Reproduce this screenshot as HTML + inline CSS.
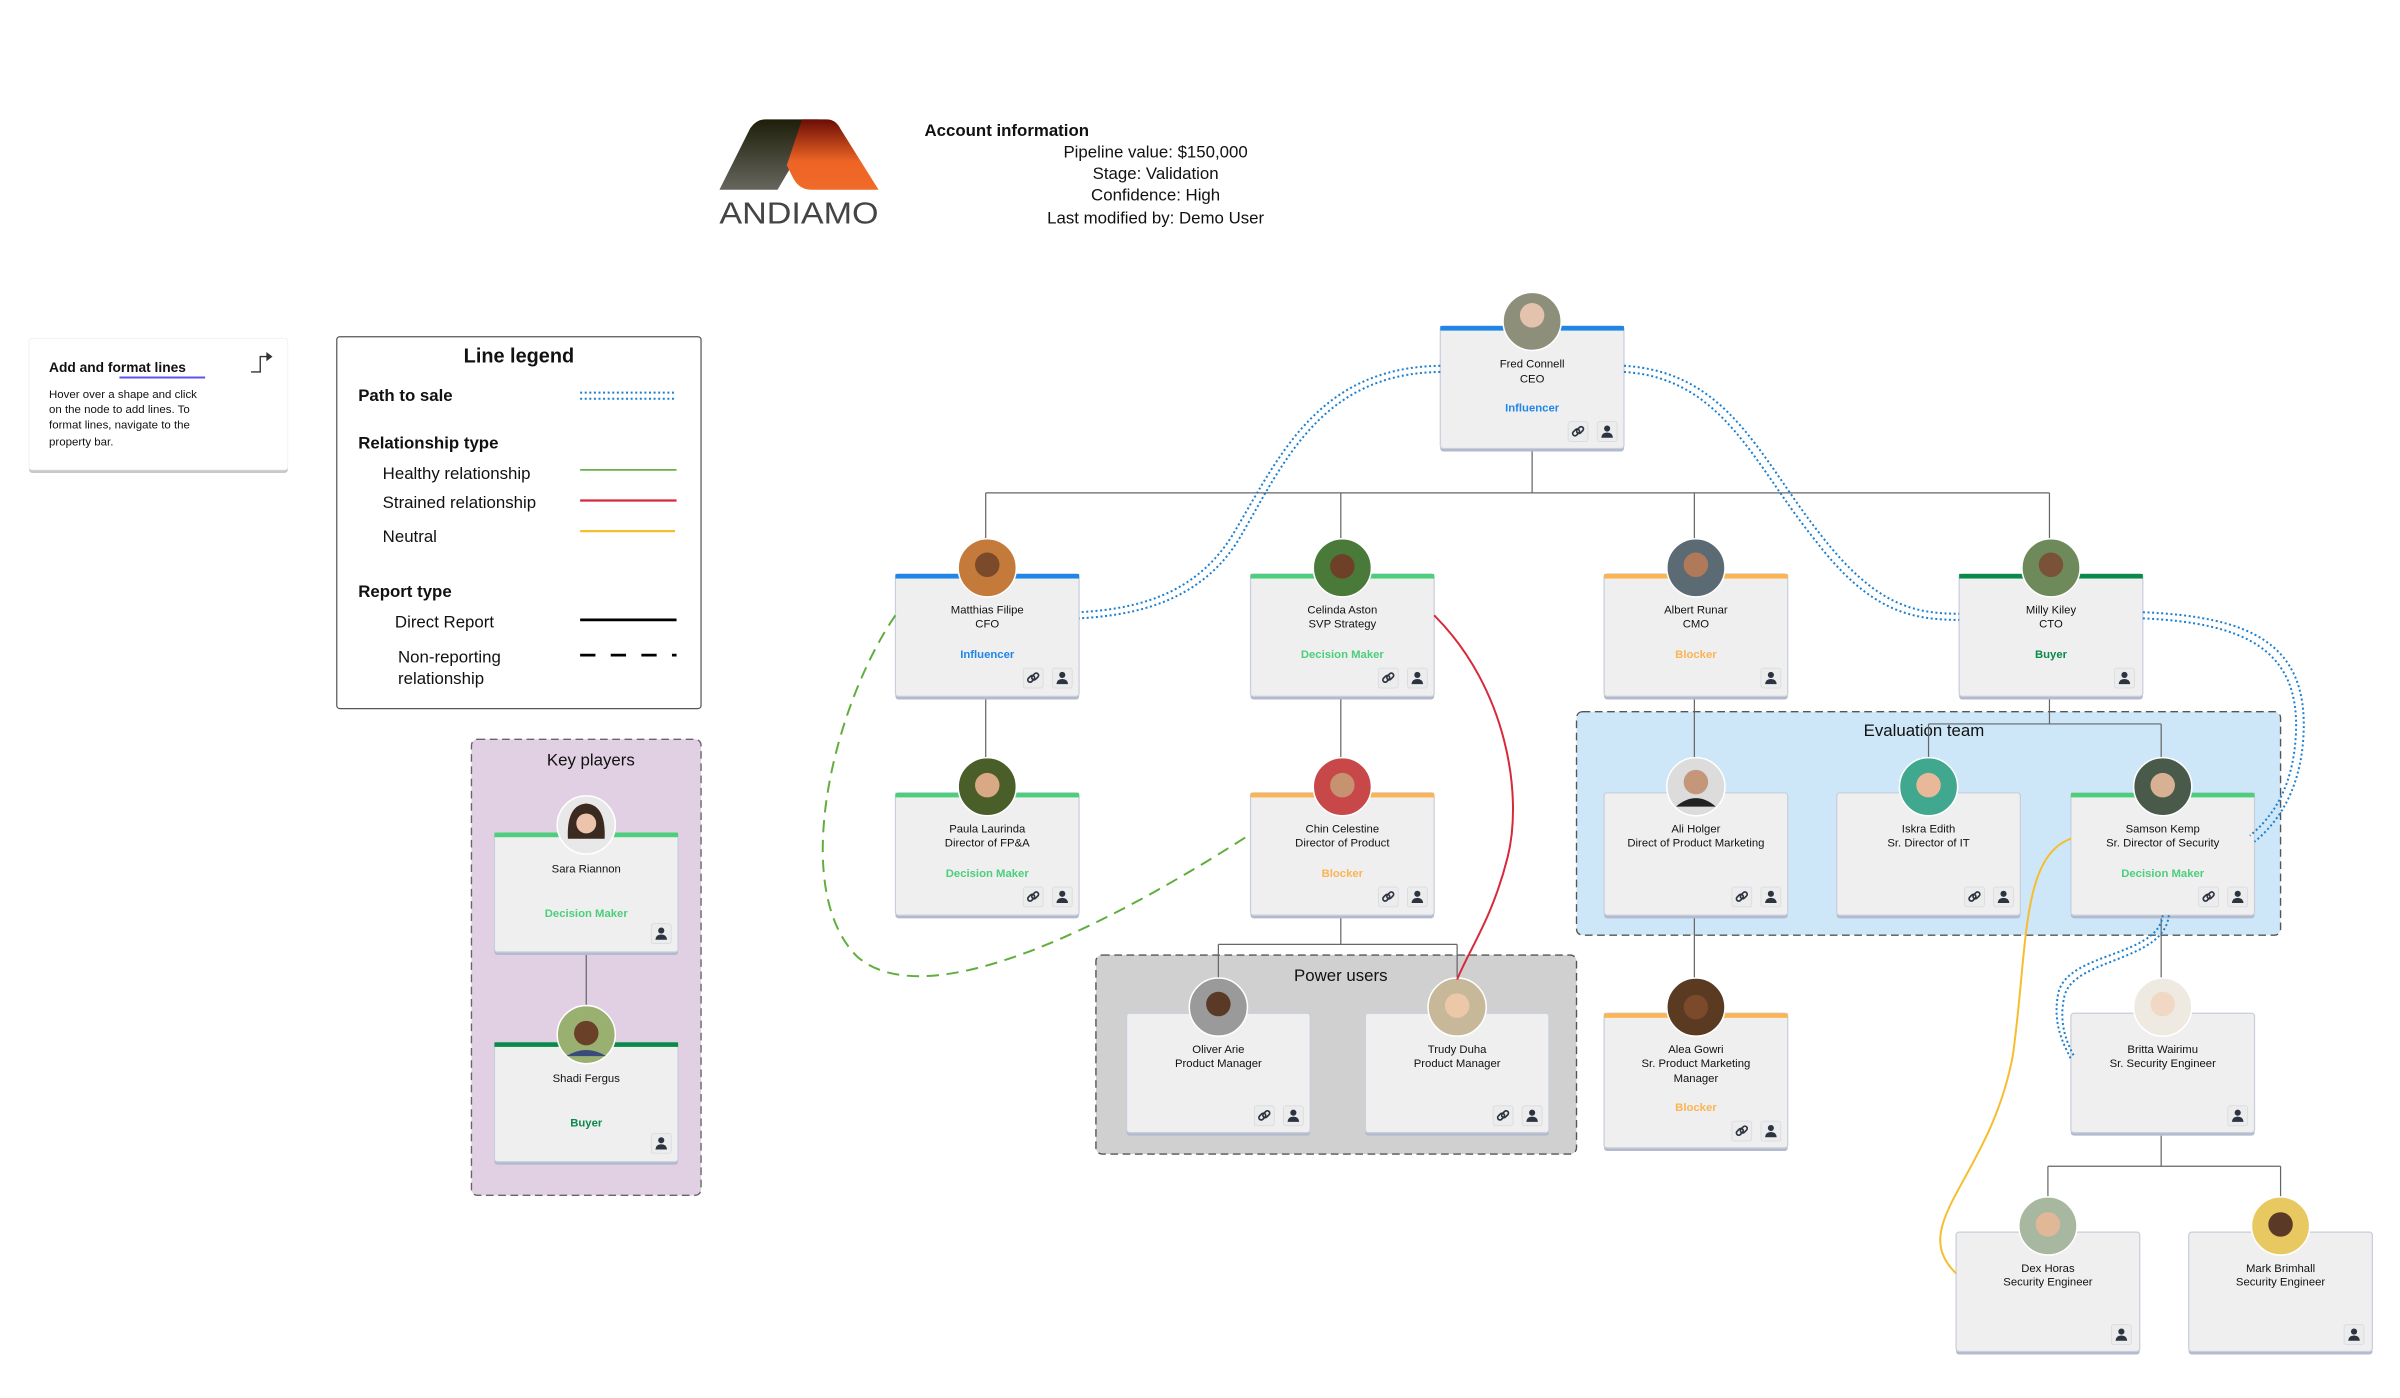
<!DOCTYPE html>
<html><head><meta charset="utf-8"><style>
html,body{margin:0;padding:0;background:#fff;width:2400px;height:1398px;overflow:hidden}
svg{display:block}
text{font-family:"Liberation Sans",sans-serif}
.n{font-size:7.4px;fill:#111;text-anchor:middle}
.r{font-size:7.4px;font-weight:bold;text-anchor:middle}
.card{fill:#efefef;stroke:#c8cedb;stroke-width:0.8}
.sh{fill:#b3bace}
.ib{fill:#ececec;stroke:#d6d9e0;stroke-width:0.5}
.tree{stroke:#666;stroke-width:0.8;fill:none}
.dot{stroke:#1a7fd0;stroke-width:1.3;fill:none;stroke-dasharray:1.3 1.7}
.av{stroke:#fff;stroke-width:1}
</style></head><body>
<svg width="2400" height="1398" viewBox="0 0 1568 913.4" xmlns="http://www.w3.org/2000/svg">
<defs>
<symbol id="pi" viewBox="0 0 14 14"><rect class="ib" x="0.5" y="0.5" width="13" height="13" rx="1.5"/><circle cx="7" cy="5" r="2" fill="#2d3441"/><path d="M3.2 11 Q3.5 7.6 7 7.6 Q10.5 7.6 10.8 11 Z" fill="#2d3441"/></symbol>
<symbol id="li" viewBox="0 0 14 14"><rect class="ib" x="0.5" y="0.5" width="13" height="13" rx="1.5"/><g fill="none" stroke="#2d3441" stroke-width="1.1"><rect x="3.2" y="6" width="5" height="3" rx="1.5" transform="rotate(-45 5.7 7.5)"/><rect x="5.8" y="4.5" width="5" height="3" rx="1.5" transform="rotate(-45 8.3 6)"/></g></symbol>
<linearGradient id="lg1" x1="0" y1="0" x2="0" y2="1"><stop offset="0" stop-color="#1e1e0a"/><stop offset="1" stop-color="#66665e"/></linearGradient>
<linearGradient id="lg2" x1="0" y1="0" x2="0" y2="1"><stop offset="0" stop-color="#6a0e05"/><stop offset="0.6" stop-color="#ee6425"/><stop offset="1" stop-color="#f06a28"/></linearGradient>
</defs>

<!-- logo -->
<path d="M470 124 L490 84 Q494 78 500 78 L535 78 L508 124 Z" fill="url(#lg1)"/>
<path d="M524 78 L540 78 Q546 78 549 84 L574 124 L530 124 Q522 124 518 116 L514 108 Z" fill="url(#lg2)"/>
<text x="522" y="146" font-size="20" fill="#444" text-anchor="middle" textLength="104" lengthAdjust="spacingAndGlyphs">ANDIAMO</text>
<text x="604" y="89" font-size="11" font-weight="bold" fill="#111">Account information</text>
<g font-size="11" fill="#111" text-anchor="middle"><text x="755" y="103">Pipeline value: $150,000</text><text x="755" y="117">Stage: Validation</text><text x="755" y="131">Confidence: High</text><text x="755" y="146">Last modified by: Demo User</text></g>

<!-- tip card -->
<rect x="19" y="223" width="169" height="86" rx="2" fill="#c8c8c8"/>
<rect x="19" y="221" width="169" height="86" rx="2" fill="#fff" stroke="#eee" stroke-width="0.5"/>
<text x="32" y="243" font-size="9" font-weight="bold" fill="#111">Add and format lines</text>
<rect x="78" y="246" width="56" height="1.3" fill="#5a55ee"/>
<path d="M164 243 H170 V233 H175" fill="none" stroke="#333" stroke-width="0.9"/><path d="M174 230 L178 233 L174 236Z" fill="#333"/>
<g font-size="7.5" fill="#111"><text x="32" y="260">Hover over a shape and click</text><text x="32" y="270">on the node to add lines. To</text><text x="32" y="280">format lines, navigate to the</text><text x="32" y="291">property bar.</text></g>

<!-- legend -->
<rect x="220" y="220" width="238" height="243" rx="2" fill="#fff" stroke="#555" stroke-width="0.8"/>
<text x="339" y="237" font-size="13" font-weight="bold" fill="#111" text-anchor="middle">Line legend</text>
<g font-size="11" fill="#111">
<text x="234" y="262" font-weight="bold">Path to sale</text>
<text x="234" y="293" font-weight="bold">Relationship type</text>
<text x="250" y="313">Healthy relationship</text>
<text x="250" y="332">Strained relationship</text>
<text x="250" y="354">Neutral</text>
<text x="234" y="390" font-weight="bold">Report type</text>
<text x="258" y="410">Direct Report</text>
<text x="260" y="433">Non-reporting</text>
<text x="260" y="447">relationship</text>
</g>
<path d="M379 256.5 H441 M379 260.5 H441" class="dot" stroke-width="1.2"/>
<line x1="379" y1="307" x2="442" y2="307" stroke="#6ab04c" stroke-width="1.2"/>
<line x1="379" y1="327" x2="442" y2="327" stroke="#d8283a" stroke-width="1.5"/>
<line x1="379" y1="347" x2="441" y2="347" stroke="#f6bd2f" stroke-width="1.5"/>
<line x1="379" y1="405" x2="442" y2="405" stroke="#000" stroke-width="1.8"/>
<line x1="379" y1="428" x2="442" y2="428" stroke="#000" stroke-width="1.8" stroke-dasharray="10 10"/>

<!-- groups -->
<rect x="308" y="483" width="150" height="298" rx="4" fill="#e1d0e3" stroke="#666" stroke-width="0.9" stroke-dasharray="5 3"/>
<text x="386" y="500" font-size="11" fill="#111" text-anchor="middle">Key players</text>
<rect x="716" y="624" width="314" height="130" rx="4" fill="#d0d0d0" stroke="#555" stroke-width="0.9" stroke-dasharray="5 3"/>
<text x="876" y="641" font-size="11" fill="#111" text-anchor="middle">Power users</text>
<rect x="1030" y="465" width="460" height="146" rx="4" fill="#cde7f8" stroke="#555" stroke-width="0.9" stroke-dasharray="5 3"/>
<text x="1257" y="481" font-size="11" fill="#111" text-anchor="middle">Evaluation team</text>

<!-- tree lines -->
<g class="tree">
<path d="M1001 293 V322 M644 322 H1339 M644 322 V375 M876 322 V375 M1107 322 V375 M1339 322 V375"/>
<path d="M644 455 V518 M876 455 V518 M876 598 V617 M796 617 H952 M796 617 V662 M952 617 V662"/>
<path d="M1107 455 V518 M1107 598 V662"/>
<path d="M1339 455 V473 M1260 473 H1412 M1260 473 V518 M1412 473 V518 M1412 598 V662"/>
<path d="M1412 742 V762 M1338 762 H1490 M1338 762 V805 M1490 762 V805"/>
<path d="M383 622 V681"/>
</g>

<!-- cards -->
<g id="cards">
<rect class="sh" x="941" y="215" width="120" height="80" rx="2"/><rect class="card" x="941" y="213" width="120" height="80" rx="2"/><rect x="941" y="213" width="120" height="3" fill="#1f86e8"/>
<circle class="av" cx="1001" cy="210" r="19" fill="#8d8f7a"/><circle cx="1001" cy="206" r="8" fill="#e3c2ae"/>
<text class="n" x="1001" y="240">Fred Connell</text><text class="n" x="1001" y="250">CEO</text><text class="r" x="1001" y="269" fill="#1f86e8">Influencer</text>
<use href="#li" x="1024" y="275" width="14" height="14"/><use href="#pi" x="1043" y="275" width="14" height="14"/>

<rect class="sh" x="585" y="377" width="120" height="80" rx="2"/><rect class="card" x="585" y="375" width="120" height="80" rx="2"/><rect x="585" y="375" width="120" height="3" fill="#1f86e8"/>
<circle class="av" cx="645" cy="371" r="19" fill="#c47a3a"/><circle cx="645" cy="369" r="8" fill="#7a4a2a"/>
<text class="n" x="645" y="401">Matthias Filipe</text><text class="n" x="645" y="410">CFO</text><text class="r" x="645" y="430" fill="#1f86e8">Influencer</text>
<use href="#li" x="668" y="436" width="14" height="14"/><use href="#pi" x="687" y="436" width="14" height="14"/>

<rect class="sh" x="817" y="377" width="120" height="80" rx="2"/><rect class="card" x="817" y="375" width="120" height="80" rx="2"/><rect x="817" y="375" width="120" height="3" fill="#4cce7c"/>
<circle class="av" cx="877" cy="371" r="19" fill="#4a7a3a"/><circle cx="877" cy="370" r="8" fill="#6e4028"/>
<text class="n" x="877" y="401">Celinda Aston</text><text class="n" x="877" y="410">SVP Strategy</text><text class="r" x="877" y="430" fill="#4cce7c">Decision Maker</text>
<use href="#li" x="900" y="436" width="14" height="14"/><use href="#pi" x="919" y="436" width="14" height="14"/>

<rect class="sh" x="1048" y="377" width="120" height="80" rx="2"/><rect class="card" x="1048" y="375" width="120" height="80" rx="2"/><rect x="1048" y="375" width="120" height="3" fill="#fbb454"/>
<circle class="av" cx="1108" cy="371" r="19" fill="#5c6a74"/><circle cx="1108" cy="369" r="8" fill="#b07a5a"/>
<text class="n" x="1108" y="401">Albert Runar</text><text class="n" x="1108" y="410">CMO</text><text class="r" x="1108" y="430" fill="#fbb454">Blocker</text>
<use href="#pi" x="1150" y="436" width="14" height="14"/>

<rect class="sh" x="1280" y="377" width="120" height="80" rx="2"/><rect class="card" x="1280" y="375" width="120" height="80" rx="2"/><rect x="1280" y="375" width="120" height="3" fill="#0a8a4a"/>
<circle class="av" cx="1340" cy="371" r="19" fill="#6f8a5a"/><circle cx="1340" cy="369" r="8" fill="#7a5238"/>
<text class="n" x="1340" y="401">Milly Kiley</text><text class="n" x="1340" y="410">CTO</text><text class="r" x="1340" y="430" fill="#0a8a4a">Buyer</text>
<use href="#pi" x="1381" y="436" width="14" height="14"/>

<rect class="sh" x="585" y="520" width="120" height="80" rx="2"/><rect class="card" x="585" y="518" width="120" height="80" rx="2"/><rect x="585" y="518" width="120" height="3" fill="#4cce7c"/>
<circle class="av" cx="645" cy="514" r="19" fill="#4a5e2a"/><circle cx="645" cy="513" r="8" fill="#d9a884"/>
<text class="n" x="645" y="544">Paula Laurinda</text><text class="n" x="645" y="553">Director of FP&amp;A</text><text class="r" x="645" y="573" fill="#4cce7c">Decision Maker</text>
<use href="#li" x="668" y="579" width="14" height="14"/><use href="#pi" x="687" y="579" width="14" height="14"/>

<rect class="sh" x="817" y="520" width="120" height="80" rx="2"/><rect class="card" x="817" y="518" width="120" height="80" rx="2"/><rect x="817" y="518" width="120" height="3" fill="#fbb454"/>
<circle class="av" cx="877" cy="514" r="19" fill="#c8484a"/><circle cx="877" cy="513" r="8" fill="#c69270"/>
<text class="n" x="877" y="544">Chin Celestine</text><text class="n" x="877" y="553">Director of Product</text><text class="r" x="877" y="573" fill="#fbb454">Blocker</text>
<use href="#li" x="900" y="579" width="14" height="14"/><use href="#pi" x="919" y="579" width="14" height="14"/>

<rect class="sh" x="1048" y="520" width="120" height="80" rx="2"/><rect class="card" x="1048" y="518" width="120" height="80" rx="2"/>
<circle class="av" cx="1108" cy="514" r="19" fill="#dcdcdc"/><circle cx="1108" cy="511" r="8" fill="#c4967a"/><path d="M1095 527 Q1108 516 1121 527 Z" fill="#222"/>
<text class="n" x="1108" y="544">Ali Holger</text><text class="n" x="1108" y="553">Direct of Product Marketing</text>
<use href="#li" x="1131" y="579" width="14" height="14"/><use href="#pi" x="1150" y="579" width="14" height="14"/>

<rect class="sh" x="1200" y="520" width="120" height="80" rx="2"/><rect class="card" x="1200" y="518" width="120" height="80" rx="2"/>
<circle class="av" cx="1260" cy="514" r="19" fill="#3fa88e"/><circle cx="1260" cy="513" r="8" fill="#e8b898"/>
<text class="n" x="1260" y="544">Iskra Edith</text><text class="n" x="1260" y="553">Sr. Director of IT</text>
<use href="#li" x="1283" y="579" width="14" height="14"/><use href="#pi" x="1302" y="579" width="14" height="14"/>

<rect class="sh" x="1353" y="520" width="120" height="80" rx="2"/><rect class="card" x="1353" y="518" width="120" height="80" rx="2"/><rect x="1353" y="518" width="120" height="3" fill="#4cce7c"/>
<circle class="av" cx="1413" cy="514" r="19" fill="#4a5a4a"/><circle cx="1413" cy="513" r="8" fill="#d8b094"/>
<text class="n" x="1413" y="544">Samson Kemp</text><text class="n" x="1413" y="553">Sr. Director of Security</text><text class="r" x="1413" y="573" fill="#4cce7c">Decision Maker</text>
<use href="#li" x="1436" y="579" width="14" height="14"/><use href="#pi" x="1455" y="579" width="14" height="14"/>

<rect class="sh" x="736" y="664" width="120" height="78" rx="2"/><rect class="card" x="736" y="662" width="120" height="78" rx="2"/>
<circle class="av" cx="796" cy="658" r="19" fill="#9a9a9a"/><circle cx="796" cy="656" r="8" fill="#5a3a26"/>
<text class="n" x="796" y="688">Oliver Arie</text><text class="n" x="796" y="697">Product Manager</text>
<use href="#li" x="819" y="722" width="14" height="14"/><use href="#pi" x="838" y="722" width="14" height="14"/>

<rect class="sh" x="892" y="664" width="120" height="78" rx="2"/><rect class="card" x="892" y="662" width="120" height="78" rx="2"/>
<circle class="av" cx="952" cy="658" r="19" fill="#c8b89a"/><circle cx="952" cy="657" r="8" fill="#ecc8a8"/>
<text class="n" x="952" y="688">Trudy Duha</text><text class="n" x="952" y="697">Product Manager</text>
<use href="#li" x="975" y="722" width="14" height="14"/><use href="#pi" x="994" y="722" width="14" height="14"/>

<rect class="sh" x="1048" y="664" width="120" height="88" rx="2"/><rect class="card" x="1048" y="662" width="120" height="88" rx="2"/><rect x="1048" y="662" width="120" height="3" fill="#fbb454"/>
<circle class="av" cx="1108" cy="658" r="19" fill="#5a3a20"/><circle cx="1108" cy="658" r="8" fill="#7a4a2a"/>
<text class="n" x="1108" y="688">Alea Gowri</text><text class="n" x="1108" y="697">Sr. Product Marketing</text><text class="n" x="1108" y="707">Manager</text><text class="r" x="1108" y="726" fill="#fbb454">Blocker</text>
<use href="#li" x="1131" y="732" width="14" height="14"/><use href="#pi" x="1150" y="732" width="14" height="14"/>

<rect class="sh" x="1353" y="664" width="120" height="78" rx="2"/><rect class="card" x="1353" y="662" width="120" height="78" rx="2"/>
<circle class="av" cx="1413" cy="658" r="19" fill="#eeeae2"/><circle cx="1413" cy="656" r="8" fill="#f0d8c4"/>
<text class="n" x="1413" y="688">Britta Wairimu</text><text class="n" x="1413" y="697">Sr. Security Engineer</text>
<use href="#pi" x="1455" y="722" width="14" height="14"/>

<rect class="sh" x="1278" y="807" width="120" height="78" rx="2"/><rect class="card" x="1278" y="805" width="120" height="78" rx="2"/>
<circle class="av" cx="1338" cy="801" r="19" fill="#a8b8a0"/><circle cx="1338" cy="800" r="8" fill="#e0b898"/>
<text class="n" x="1338" y="831">Dex Horas</text><text class="n" x="1338" y="840">Security Engineer</text>
<use href="#pi" x="1379" y="865" width="14" height="14"/>

<rect class="sh" x="1430" y="807" width="120" height="78" rx="2"/><rect class="card" x="1430" y="805" width="120" height="78" rx="2"/>
<circle class="av" cx="1490" cy="801" r="19" fill="#e8c860"/><circle cx="1490" cy="800" r="8" fill="#5a3a26"/>
<text class="n" x="1490" y="831">Mark Brimhall</text><text class="n" x="1490" y="840">Security Engineer</text>
<use href="#pi" x="1531" y="865" width="14" height="14"/>

<rect class="sh" x="323" y="546" width="120" height="78" rx="2"/><rect class="card" x="323" y="544" width="120" height="78" rx="2"/><rect x="323" y="544" width="120" height="3" fill="#4cce7c"/>
<circle class="av" cx="383" cy="539" r="19" fill="#e8e8e8"/><path d="M371 548 Q370 526 383 525 Q396 526 395 548 Z" fill="#3a2a20"/><circle cx="383" cy="538" r="6.5" fill="#ecc4ac"/>
<text class="n" x="383" y="570">Sara Riannon</text><text class="r" x="383" y="599" fill="#4cce7c">Decision Maker</text>
<use href="#pi" x="425" y="603" width="14" height="14"/>

<rect class="sh" x="323" y="683" width="120" height="78" rx="2"/><rect class="card" x="323" y="681" width="120" height="78" rx="2"/><rect x="323" y="681" width="120" height="3" fill="#0a8a4a"/>
<circle class="av" cx="383" cy="676" r="19" fill="#9ab070"/><circle cx="383" cy="675" r="8" fill="#6a4028"/><path d="M370 690 Q383 682 396 690 Z" fill="#3a4a7a"/>
<text class="n" x="383" y="707">Shadi Fergus</text><text class="r" x="383" y="736" fill="#0a8a4a">Buyer</text>
<use href="#pi" x="425" y="740" width="14" height="14"/>
</g>

<!-- relationship curves -->
<path d="M585 402 C545 460 515 580 560 625 C600 660 700 620 817 545" fill="none" stroke="#5fae3e" stroke-width="1.3" stroke-dasharray="8 5"/>
<path d="M937 402 C985 450 995 520 985 560 C975 600 960 620 952 640" fill="none" stroke="#d8283a" stroke-width="1.3"/>
<path d="M1353 548 C1320 560 1325 620 1315 690 C1300 770 1245 800 1278 832" fill="none" stroke="#f6bd2f" stroke-width="1.3"/>

<!-- path to sale -->
<g class="dot">
<path d="M941 239 C860 240 835 300 805 350 C780 390 740 398 705 400"/>
<path d="M941 243 C862 244 838 304 809 353 C784 393 742 402 705 404"/>
<path d="M1061 239 C1130 243 1150 300 1190 350 C1225 395 1250 401 1280 401"/>
<path d="M1061 243 C1126 247 1146 304 1186 353 C1221 399 1248 405 1280 405"/>
<path d="M1400 400 C1470 403 1508 420 1505 480 C1503 520 1485 540 1473 550"/>
<path d="M1400 404 C1466 407 1503 424 1500 480 C1498 518 1482 536 1470 546"/>
<path d="M1413 598 C1410 625 1352 622 1345 648 C1340 670 1350 685 1353 692"/>
<path d="M1417 598 C1414 628 1356 626 1349 650 C1344 670 1352 684 1355 690"/>
</g>
</svg>
</body></html>
